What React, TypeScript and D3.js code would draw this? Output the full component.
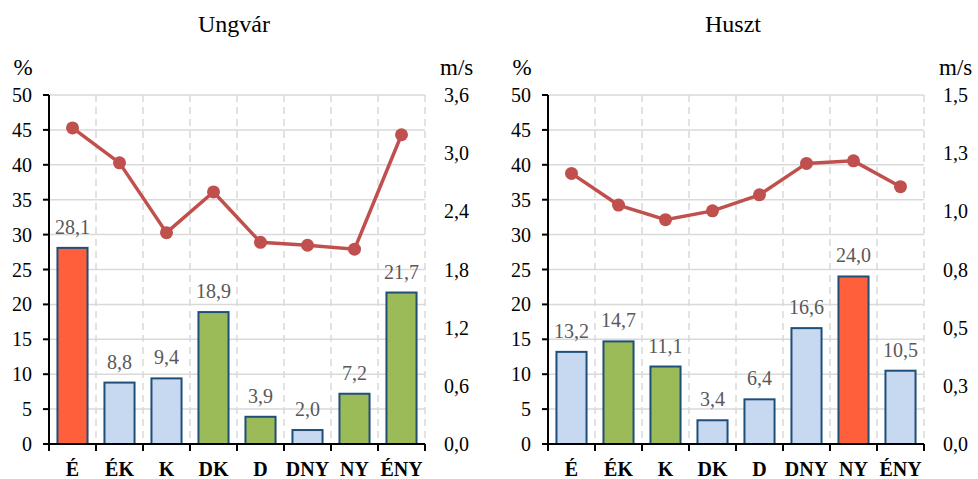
import React from "react";
import * as d3 from "d3";

const categories = ["É", "ÉK", "K", "DK", "D", "DNY", "NY", "ÉNY"];

const ungvarPct = [28.1, 8.8, 9.4, 18.9, 3.9, 2.0, 7.2, 21.7];
const ungvarSpeed = [3.26, 2.9, 2.18, 2.6, 2.08, 2.05, 2.01, 3.19];
const ungvarClass = ["max", "low", "low", "high", "high", "low", "high", "high"];

const husztPct = [13.2, 14.7, 11.1, 3.4, 6.4, 16.6, 24.0, 10.5];
const husztSpeed = [1.163, 1.027, 0.964, 1.002, 1.071, 1.206, 1.217, 1.106];
const husztClass = ["low", "high", "high", "low", "low", "low", "max", "low"];

const leftTicks = [0, 5, 10, 15, 20, 25, 30, 35, 40, 45, 50];
const ungvarRightTicks = [0, 0.6, 1.2, 1.8, 2.4, 3.0, 3.6];
const ungvarRightLabels = ["0,0", "0,6", "1,2", "1,8", "2,4", "3,0", "3,6"];
const husztRightTicks = [0, 0.25, 0.5, 0.75, 1.0, 1.25, 1.5];
const husztRightLabels = ["0,0", "0,3", "0,5", "0,8", "1,0", "1,3", "1,5"];

const COLORS: Record<string, string> = {
  max: "#FF5F3B",
  low: "#C6D9F1",
  high: "#9BBB59",
};
const FONT = "Liberation Serif, DejaVu Serif, serif";

type PanelProps = {
  ox: number;
  title: string;
  pct: number[];
  speed: number[];
  cls: string[];
  rTicks: number[];
  rLabels: string[];
  rMax: number;
};

function T(props: any) {
  const { size, weight, fill, anchor, children, ...rest } = props;
  return (
    <text
      {...rest}
      textAnchor={anchor || "middle"}
      style={{ fontFamily: FONT, fontSize: size + "px", fontWeight: weight || "normal", fill: fill || "#000" }}
    >
      {children}
    </text>
  );
}

function Panel({ ox, title, pct, speed, cls, rTicks, rLabels, rMax }: PanelProps) {
  const x0 = ox + 49;
  const x1 = ox + 425;
  const yTop = 95;
  const yBot = 444;
  const x = d3.scaleBand<string>().domain(categories).range([x0, x1]).paddingInner(0.36).paddingOuter(0.18);
  const step = (x1 - x0) / categories.length;
  const y = d3.scaleLinear().domain([0, 50]).range([yBot, yTop]);
  const yr = d3.scaleLinear().domain([0, rMax]).range([yBot, yTop]);
  const cx = (i: number) => (x(categories[i]) as number) + x.bandwidth() / 2;
  const line = d3
    .line<number>()
    .x((_, i) => cx(i))
    .y((d) => yr(d));
  const bounds = d3.range(categories.length + 1).map((i) => x0 + i * step);

  return (
    <g>
      <T x={ox + 234} y={32} size={24}>{title}</T>
      <T x={ox + 23} y={75} size={23}>%</T>
      <T x={ox + 440} y={75} size={23} anchor="start">m/s</T>
      {leftTicks.map((t) => (
        <line key={"h" + t} x1={x0} x2={x1} y1={y(t)} y2={y(t)} stroke="#D9D9D9" strokeWidth={1.5} />
      ))}
      {bounds.slice(1).map((b, i) => (
        <line key={"v" + i} x1={b} x2={b} y1={yTop} y2={yBot} stroke="#D9D9D9" strokeWidth={1.5} strokeDasharray="7,5" />
      ))}
      {pct.map((v, i) => (
        <rect
          key={"b" + i}
          x={x(categories[i])}
          y={y(v)}
          width={x.bandwidth()}
          height={yBot - y(v)}
          fill={COLORS[cls[i]]}
          stroke="#1F4E79"
          strokeWidth={2}
        />
      ))}
      {pct.map((v, i) => (
        <T key={"l" + i} x={cx(i)} y={y(v) - 14} size={20} fill="#595959">
          {v.toFixed(1).replace(".", ",")}
        </T>
      ))}
      <line x1={x0} x2={x0} y1={yTop} y2={yBot} stroke="#000" strokeWidth={2} />
      {leftTicks.map((t) => (
        <g key={"lt" + t}>
          <line x1={x0 - 6} x2={x0} y1={y(t)} y2={y(t)} stroke="#000" strokeWidth={2} />
          <T x={ox + 32} y={y(t) + 7} size={20} anchor="end">{t}</T>
        </g>
      ))}
      <line x1={x0} x2={x1} y1={yBot} y2={yBot} stroke="#000" strokeWidth={2} />
      {bounds.map((b, i) => (
        <line key={"bt" + i} x1={b} x2={b} y1={yBot} y2={yBot + 7} stroke="#000" strokeWidth={2} />
      ))}
      {categories.map((c, i) => (
        <T key={"c" + c} x={cx(i)} y={476} size={20} weight="bold">{c}</T>
      ))}
      {rTicks.map((t, i) => (
        <T key={"rt" + i} x={x1 + 19} y={yr(t) + 7} size={20} anchor="start">{rLabels[i]}</T>
      ))}
      <path d={line(speed) as string} fill="none" stroke="#C0504D" strokeWidth={3.5} />
      {speed.map((v, i) => (
        <circle key={"p" + i} cx={cx(i)} cy={yr(v)} r={6.5} fill="#C0504D" />
      ))}
    </g>
  );
}

export default function App() {
  return (
    <svg width={978} height={479} style={{ position: "absolute", left: 0, top: 0, background: "#fff" }}>
      <rect width={978} height={479} fill="#fff" />
      <Panel
        ox={0}
        title="Ungvár"
        pct={ungvarPct}
        speed={ungvarSpeed}
        cls={ungvarClass}
        rTicks={ungvarRightTicks}
        rLabels={ungvarRightLabels}
        rMax={3.6}
      />
      <Panel
        ox={499}
        title="Huszt"
        pct={husztPct}
        speed={husztSpeed}
        cls={husztClass}
        rTicks={husztRightTicks}
        rLabels={husztRightLabels}
        rMax={1.5}
      />
    </svg>
  );
}
